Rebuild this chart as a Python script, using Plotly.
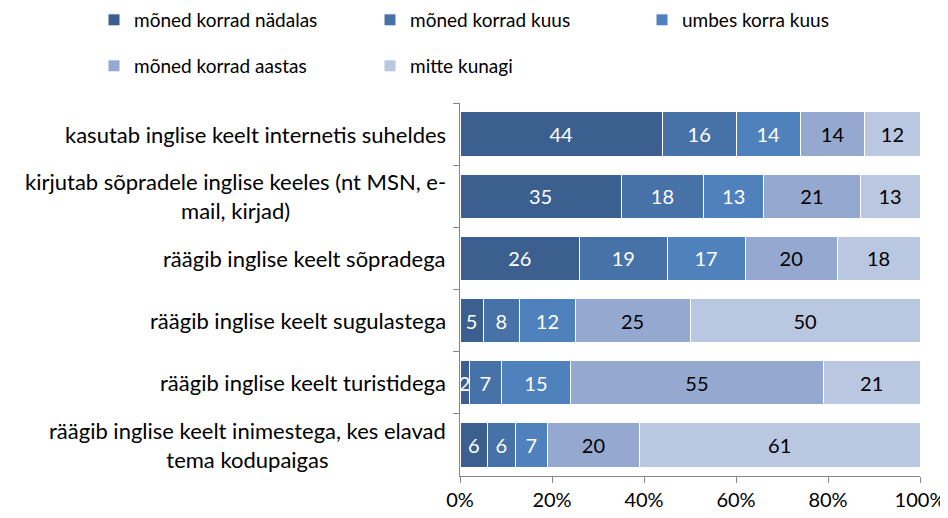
import plotly.graph_objects as go

categories = [
    "kasutab inglise keelt internetis suheldes",
    "kirjutab sõpradele inglise keeles (nt MSN, e-<br>mail, kirjad)",
    "räägib inglise keelt sõpradega",
    "räägib inglise keelt sugulastega",
    "räägib inglise keelt turistidega",
    "räägib inglise keelt inimestega, kes elavad<br>tema kodupaigas",
]
series_names = [
    "mõned korrad nädalas",
    "mõned korrad kuus",
    "umbes korra kuus",
    "mõned korrad aastas",
    "mitte kunagi",
]
s_nadalas = [44, 35, 26, 5, 2, 6]
s_kuus = [16, 18, 19, 8, 7, 6]
s_korra = [14, 13, 17, 12, 15, 7]
s_aastas = [14, 21, 20, 25, 55, 20]
s_kunagi = [12, 13, 18, 50, 21, 61]
series_values = [s_nadalas, s_kuus, s_korra, s_aastas, s_kunagi]
x_ticks = [0, 20, 40, 60, 80, 100]

colors = ["#3B5F8E", "#4672A8", "#4F81BD", "#95A9D0", "#B9C7E1"]
text_colors = ["white", "white", "white", "black", "black"]
legend_ids = ["legend", "legend2", "legend3", "legend4", "legend5"]

W, H, OFF = 940, 510, 8  # page body has an 8px margin
# legend placement (page pixels): text start x, row centre y
legend_pos = [(135, 20), (411, 20), (683, 20), (135, 66), (411, 66)]

FONT = "Lato"

fig = go.Figure()
for name, vals, col, tc, lg in zip(series_names, series_values, colors, text_colors, legend_ids):
    fig.add_trace(go.Bar(
        y=categories, x=vals, name=name, orientation="h",
        marker=dict(color=col, line=dict(color="white", width=1)),
        text=[str(v) for v in vals], textposition="inside",
        insidetextanchor="middle", textangle=0,
        textfont=dict(color=tc, size=20, family=FONT),
        legend=lg, hoverinfo="skip",
    ))

for c in categories:
    fig.add_annotation(
        x=0, xref="paper", y=c, yref="y", text=c, showarrow=False,
        xanchor="right", xshift=-12, align="center",
        font=dict(size=22, family=FONT, color="black"),
    )

legend_layout = {}
for lg, (tx, ty) in zip(legend_ids, legend_pos):
    legend_layout[lg] = dict(
        orientation="h", xref="container", yref="container",
        x=(tx - OFF - 41) / W, y=1 - (ty - OFF) / H, xanchor="left", yanchor="middle",
        font=dict(size=19, family=FONT, color="black"),
        bgcolor="rgba(0,0,0,0)",
    )

fig.update_layout(
    barmode="stack", bargap=0.285,
    width=W, height=H,
    margin=dict(l=460 - OFF, r=W + OFF - 920, t=103 - OFF, b=H + OFF - 476, autoexpand=False),
    paper_bgcolor="white", plot_bgcolor="white",
    font=dict(family=FONT, size=19, color="black"),
    uniformtext=dict(minsize=20, mode="show"),
    showlegend=True,
    **legend_layout,
)
fig.update_xaxes(
    range=[0, 100], tickvals=x_ticks, ticktext=[f"{v}%" for v in x_ticks],
    showgrid=False, zeroline=False, showline=True, linecolor="#868686", linewidth=1,
    ticks="outside", ticklen=6, tickcolor="#868686",
    tickfont=dict(size=20, family=FONT),
)
fig.update_yaxes(
    categoryorder="array", categoryarray=categories, autorange="reversed",
    showticklabels=False, showgrid=False, zeroline=False,
    showline=True, linecolor="#868686", linewidth=1,
    ticks="outside", ticklen=6, tickcolor="#868686", tickson="boundaries",
)

fig.write_html("out.html")
